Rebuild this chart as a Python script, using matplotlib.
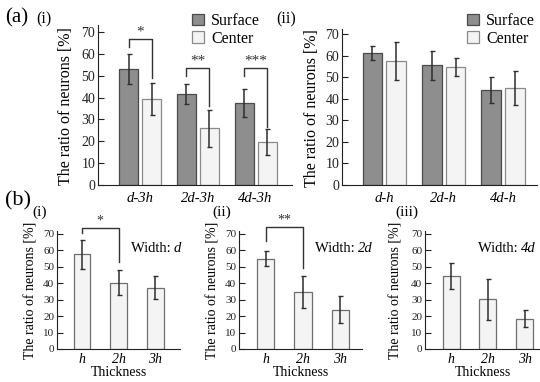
import matplotlib
matplotlib.use('Agg')
import matplotlib.pyplot as plt
import numpy as np

plt.rcParams['font.family'] = ['Liberation Serif', 'DejaVu Serif']

# (a)(i) surface vs center, thickness 3h
a1_labels = ['d-3h', '2d-3h', '4d-3h']
a1_surface = [53.0, 41.5, 37.5]
a1_surface_err = [7.0, 4.5, 6.5]
a1_center = [39.5, 26.0, 19.5]
a1_center_err = [7.3, 8.5, 6.0]

# (a)(ii) surface vs center, thickness h
a2_labels = ['d-h', '2d-h', '4d-h']
a2_surface = [61.2, 55.7, 44.2]
a2_surface_err = [3.2, 6.8, 6.2]
a2_center = [57.6, 54.8, 44.9]
a2_center_err = [9.0, 4.3, 7.9]

# (b) ratio vs thickness for each width
b_labels = ['h', '2h', '3h']
b_width = ['d', '2d', '4d']
b_values = [[57.7, 40.3, 37.3],
            [54.8, 34.8, 23.9],
            [44.4, 30.1, 18.4]]
b_errors = [[8.8, 7.5, 7.0],
            [4.6, 9.8, 8.3],
            [8.0, 12.4, 5.1]]

W, H = 540, 382
fig = plt.figure(figsize=(W / 100, H / 100), dpi=100)

SURF = '#8e8e8e'
SURF_EDGE = '#4a4a4a'
CENT = '#f4f4f4'
CENT_EDGE = '#8a8a8a'
ERR = '#2e2e2e'


def px_axes(l, t, r, b):
    return fig.add_axes([l / W, 1 - b / H, (r - l) / W, (b - t) / H])


def style(ax, ylim, fs):
    ax.spines['top'].set_visible(False)
    ax.spines['right'].set_visible(False)
    ax.spines['left'].set_color('#222222')
    ax.spines['bottom'].set_color('#222222')
    ax.set_ylim(*ylim)
    ax.set_yticks(range(0, 80, 10))
    ax.tick_params(axis='y', direction='in', length=4, width=0.8, labelsize=fs, pad=2, colors='#222222')
    ax.tick_params(axis='x', length=0, labelsize=fs + 0.5, pad=5)
    for t in ax.get_xticklabels():
        t.set_fontstyle('italic')


def bracket(ax, x0, x1, ytop, yl, yr, stars, fs):
    ax.plot([x0, x0, x1, x1], [yl, ytop, ytop, yr], color='#333333', lw=1, clip_on=False)
    ax.text((x0 + x1) / 2, ytop + 0.3, stars, ha='center', va='bottom', fontsize=fs, color='#333333')


def grouped(ax, labels, surf, surf_err, cent, cent_err, xlim, ylim):
    x = np.arange(len(labels))
    w = 0.33
    off = 0.2
    ekw = dict(ecolor=ERR, elinewidth=1.1, capsize=1.8, capthick=1.0)
    b1 = ax.bar(x - off, surf, w, color=SURF, edgecolor=SURF_EDGE, linewidth=0.9,
                yerr=surf_err, error_kw=ekw, label='Surface')
    b2 = ax.bar(x + off, cent, w, color=CENT, edgecolor=CENT_EDGE, linewidth=0.9,
                yerr=cent_err, error_kw=ekw, label='Center')
    ax.set_xlim(*xlim)
    ax.set_xticks(x)
    ax.set_xticklabels(labels)
    style(ax, ylim, 10)
    return b1, b2


# ---- (a)(i)
ax1 = px_axes(98, 25, 292, 185)
h1 = grouped(ax1, a1_labels, a1_surface, a1_surface_err, a1_center, a1_center_err,
             (-0.73, 2.63), (0, 73.2))
bracket(ax1, -0.2, 0.2, 66.8, 63, 49, '*', 11)
bracket(ax1, 0.8, 1.2, 53.6, 50, 36, '**', 11)
bracket(ax1, 1.8, 2.2, 53.6, 50, 26.5, '***', 11)

# ---- (a)(ii)
ax2 = px_axes(342, 29, 537, 185)
h2 = grouped(ax2, a2_labels, a2_surface, a2_surface_err, a2_center, a2_center_err,
             (-0.71, 2.57), (0, 72.5))

for ax, (lx, ly) in [(ax1, (192, 13)), (ax2, (467, 13))]:
    ax.legend(loc='upper left', bbox_to_anchor=(lx / W, 1 - ly / H), bbox_transform=fig.transFigure,
              frameon=False, fontsize=11.5, handlelength=0.75, handleheight=0.75,
              handletextpad=0.45, labelspacing=0.12, borderpad=0, borderaxespad=0)

fig.text(65.5 / W, 1 - 106 / H, 'The ratio of neurons [%]', rotation=90, ha='center', va='center', fontsize=11.5)
fig.text(311.5 / W, 1 - 108 / H, 'The ratio of neurons [%]', rotation=90, ha='center', va='center', fontsize=11.5)

# ---- (b)
b_boxes = [(57, 180, (-0.68, 2.67)), (239, 362, (-0.71, 2.58)), (425, 540, (-0.71, 2.42))]
b_ylab_x = [31, 213, 396]
b_width_x = [1.33, 1.32, 0.72]
b_axes = []
for i, (l, r, xl) in enumerate(b_boxes):
    ax = px_axes(l, 231, r, 349)
    x = np.arange(len(b_labels))
    ax.bar(x, b_values[i], 0.46, color=CENT, edgecolor='#6e6e6e', linewidth=0.9,
           yerr=b_errors[i], error_kw=dict(ecolor=ERR, elinewidth=1.1, capsize=1.8, capthick=1.0))
    ax.set_xlim(*xl)
    ax.set_xticks(x)
    ax.set_xticklabels(b_labels)
    style(ax, (0, 71.7), 8)
    ax.tick_params(axis='x', labelsize=10, pad=3)
    ax.set_xlabel('Thickness', fontsize=10, labelpad=0)
    t = ax.text(b_width_x[i], 61, 'Width: ', ha='left', va='center', fontsize=10.5, clip_on=False)
    ax.annotate(b_width[i], xy=(1, 0), xycoords=t, ha='left', va='bottom', fontsize=10.5,
                fontstyle='italic', annotation_clip=False)
    fig.text(b_ylab_x[i] / W, 1 - 290 / H, 'The ratio of neurons [%]', rotation=90, ha='center',
             va='center', fontsize=10)
    b_axes.append(ax)

bracket(b_axes[0], 0, 1, 73.6, 70.4, 52.8, '*', 10)
bracket(b_axes[1], 0, 1, 74.0, 65.8, 49.5, '**', 10)

# panel labels
fig.text(5 / W, 1 - 18 / H, '(a)', fontsize=15, va='center', ha='left')
fig.text(36 / W, 1 - 19 / H, '(i)', fontsize=11.5, va='center', ha='left')
fig.text(276 / W, 1 - 19 / H, '(ii)', fontsize=11.5, va='center', ha='left')
fig.text(5 / W, 1 - 201 / H, '(b)', fontsize=16, va='center', ha='left')
fig.text(32 / W, 1 - 212 / H, '(i)', fontsize=11, va='center', ha='left')
fig.text(212 / W, 1 - 212 / H, '(ii)', fontsize=11, va='center', ha='left')
fig.text(395 / W, 1 - 212 / H, '(iii)', fontsize=11, va='center', ha='left')

fig.savefig('out.png', dpi=100)
